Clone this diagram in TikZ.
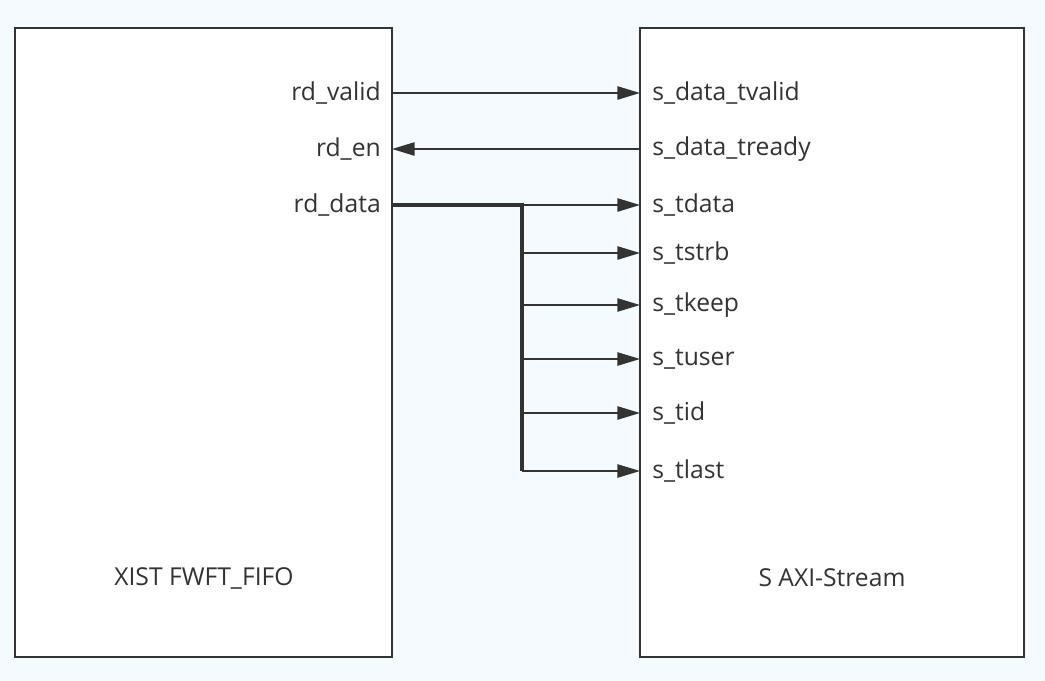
\documentclass[tikz,border=0pt]{standalone}
\usepackage{fontspec}
\setmainfont{Open Sans}
\usetikzlibrary{positioning,arrows.meta}
\definecolor{bgblue}{HTML}{F4FAFE}
\definecolor{linegray}{HTML}{333333}

\begin{document}
\begin{tikzpicture}[x=0.75pt,y=-0.75pt,
    blockbox/.style={draw=linegray, line width=1.5pt, fill=white},
    sig/.style={font=\fontsize{18.5}{21}\selectfont, text=linegray, inner sep=0pt},
    wire/.style={draw=linegray, line width=1.1pt, -{Triangle[length=17pt,width=10pt]}},
    bus/.style={draw=linegray, line width=2.6pt}]
    \fill[bgblue] (0,0) rectangle (1045,681);
    \useasboundingbox (0,0) rectangle (1045,681);

    % Blocks
    \draw[blockbox] (15,28) rectangle (392,657);
    \draw[blockbox] (640,28) rectangle (1024,657);
    \node[sig] (fifo) at (204,578) {XIST FWFT\_FIFO};
    \node[sig] (axis) at (832,578) {S AXI-Stream};

    % Left side ports
    \node[sig, anchor=east] (rdvalid) at (381,93) {rd\_valid};
    \node[sig, anchor=east] (rden) at (381,149) {rd\_en};
    \node[sig, anchor=east] (rddata) at (381,205) {rd\_data};
    \coordinate (lvalid) at (392,93);
    \coordinate (len) at (392,149);
    \coordinate (ldata) at (392,205);
    \coordinate (split) at (522,205);

    % Right side ports
    \node[sig, anchor=west] (tvalid) at (652,93) {s\_data\_tvalid};
    \node[sig, anchor=west] (tready) at (652,149) {s\_data\_tready};
    \coordinate (rvalid) at (640,93);
    \coordinate (rready) at (640,149);
    \foreach \name/\yy in {tdata/205, tstrb/253, tkeep/305, tuser/359, tid/413, tlast/471} {
        \node[sig, anchor=west] (\name) at (652,\yy) {s\_\name};
        \coordinate (r\name) at (640,\yy);
        \coordinate (b\name) at (522,\yy);
    }

    % Connections
    \draw[wire] (lvalid) -- (rvalid);
    \draw[wire] (rready) -- (len);
    \draw[bus] (ldata) -- (split) -- (btlast);
    \foreach \name in {tdata, tstrb, tkeep, tuser, tid, tlast}
        \draw[wire] (b\name) -- (r\name);
\end{tikzpicture}
\end{document}
